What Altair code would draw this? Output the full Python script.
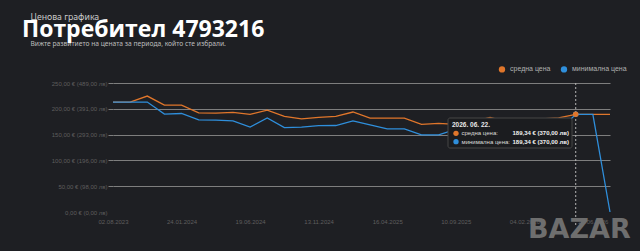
import altair as alt
import pandas as pd

# ---------------- data ----------------
dates = [
    "02.08.2023", "13.09.2023", "25.10.2023", "06.12.2023", "24.01.2024",
    "28.02.2024", "10.04.2024", "15.05.2024", "19.06.2024", "24.07.2024",
    "28.08.2024", "09.10.2024", "13.11.2024", "18.12.2024", "29.01.2025",
    "12.03.2025", "16.04.2025", "21.05.2025", "25.06.2025", "30.07.2025",
    "10.09.2025", "15.10.2025", "19.11.2025", "24.12.2025", "04.02.2026",
    "18.03.2026", "29.04.2026", "22.06.2026", "29.06.2026", "06.07.2026",
]
avg_price = [
    213.0, 213.0, 224.7, 207.2, 207.2, 192.2, 191.7, 193.2, 189.3, 197.5,
    185.4, 180.6, 183.5, 185.4, 193.8, 181.9, 181.9, 181.9, 169.9, 171.8,
    169.9, 174.8, 183.1, 174.8, 178.6, 180.6, 182.5, 189.34, 189.34, 189.34,
]
min_price = [
    213.0, 213.0, 213.0, 189.7, 190.9, 178.6, 178.1, 176.7, 164.7, 182.1,
    163.5, 164.5, 167.4, 167.6, 176.7, 168.9, 161.2, 161.2, 149.5, 149.5,
    160.0, 163.0, 165.0, 160.0, 158.0, 157.0, 157.0, 189.34, 189.34, 0.0,
]
series_names = ["средна цена", "минимална цена"]
series_colors = ["#e0762b", "#2f8fdc"]

x_labels = ["02.08.2023", "24.01.2024", "19.06.2024", "13.11.2024",
            "16.04.2025", "10.09.2025", "04.02.2026", "29.06.2026"]
y_ticks = [0, 50, 100, 150, 200, 250]
y_tick_labels = ["0,00 € (0,00 лв)", "50,00 € (98,00 лв)", "100,00 € (196,00 лв)",
                 "150,00 € (293,00 лв)", "200,00 € (391,00 лв)", "250,00 € (489,00 лв)"]

cursor_date = "22.06.2026"
cursor_value = 189.34
cursor_label = "2026. 06. 22."
tooltip_texts = ["средна цена:", "минимална цена:"]
tooltip_values = ["189,34 € (370,00 лв)", "189,34 € (370,00 лв)"]

title_text = "Потребител 4793216"
header_top = "Ценова графика"
header_sub = "Вижте развитието на цената за периода, който сте избрали."
logo_text = "BAZAR"

# ---------------- tables ----------------
n = len(dates)
df = pd.DataFrame({
    "idx": list(range(n)) * 2,
    "date": dates * 2,
    "series": [series_names[0]] * n + [series_names[1]] * n,
    "value": avg_price + min_price,
})
cursor_df = pd.DataFrame({
    "date": [cursor_date, cursor_date],
    "series": [series_names[1], series_names[0]],
    "value": [cursor_value, cursor_value],
})
one = pd.DataFrame({"a": [0]})

BG = "#1e1f23"
GRID = "#7e7e7e"
LABEL = "#5e5e5e"
AXFONT = "Liberation Sans"

label_expr = "[" + ",".join("'" + s + "'" for s in y_tick_labels) + "][indexof([" + \
    ",".join(str(v) for v in y_ticks) + "], datum.value)]"

x_enc = alt.X(
    "date:O",
    scale=alt.Scale(type="point", domain=dates, padding=0),
    axis=alt.Axis(values=x_labels, labelAngle=0, ticks=False, domain=False, grid=False,
                  labelPadding=6, labelFontSize=6, labelColor=LABEL, labelFont=AXFONT,
                  labelOverlap=False, title=None),
)
y_enc = alt.Y(
    "value:Q",
    scale=alt.Scale(domain=[0, 250], nice=False, zero=True),
    axis=alt.Axis(values=y_ticks, labelExpr=label_expr, grid=True, gridColor=GRID,
                  gridWidth=1, tickSize=5, tickColor=GRID, domain=False, labelPadding=1,
                  labelFontSize=6, labelColor=LABEL, labelFont=AXFONT, title=None,
                  gridOpacity={"condition": {"test": "datum.value === 0", "value": 0}, "value": 1},
                  tickOpacity={"condition": {"test": "datum.value === 0", "value": 0}, "value": 1}),
)

line_avg = alt.Chart(df).transform_filter(
    alt.datum.series == series_names[0]
).mark_line(color=series_colors[0], strokeWidth=1.3).encode(
    x=x_enc, y=y_enc, order=alt.Order("idx:Q"))

line_min = alt.Chart(df).transform_filter(
    alt.datum.series == series_names[1]
).mark_line(color=series_colors[1], strokeWidth=1.3).encode(
    x=x_enc, y=y_enc, order=alt.Order("idx:Q"))

cursor_rule = alt.Chart(cursor_df.head(1)).mark_rule(
    color="#b5b5b5", strokeDash=[2, 2], strokeWidth=1
).encode(x=x_enc, y=alt.value(0), y2=alt.value(142))

points = alt.Chart(cursor_df).mark_circle(size=30, opacity=1).encode(
    x=x_enc, y=y_enc,
    color=alt.Color("series:N",
                    scale=alt.Scale(domain=series_names, range=series_colors),
                    legend=alt.Legend(orient="none", legendX=385, legendY=-18,
                                      direction="horizontal", title=None,
                                      labelColor="#b0b0b0", labelFontSize=7,
                                      labelFont=AXFONT, symbolType="circle",
                                      symbolSize=40, symbolOpacity=1,
                                      columnPadding=9, labelOffset=4, padding=0)),
)

# tooltip box
tip_box = alt.Chart(one).mark_rect(
    fill="#1b1c1f", stroke="#464646", strokeWidth=1, cornerRadius=2
).encode(x=alt.value(335), x2=alt.value(459), y=alt.value(35), y2=alt.value(65))
tip_date = alt.Chart(one).mark_text(
    text=cursor_label, align="left", baseline="middle", fontSize=6.5,
    fontWeight="bold", color="#e8e8e8", font=AXFONT
).encode(x=alt.value(339), y=alt.value(41.5))
tip_layers = []
for k, yy in enumerate([50.3, 58.7]):
    tip_layers.append(alt.Chart(one).mark_circle(size=28, opacity=1, color=series_colors[k])
                      .encode(x=alt.value(343), y=alt.value(yy)))
    tip_layers.append(alt.Chart(one).mark_text(
        text=tooltip_texts[k], align="left", baseline="middle", fontSize=6,
        color="#dcdcdc", font=AXFONT).encode(x=alt.value(348.5), y=alt.value(yy)))
    tip_layers.append(alt.Chart(one).mark_text(
        text=tooltip_values[k], align="right", baseline="middle", fontSize=6,
        fontWeight="bold", color="#f0f0f0", font=AXFONT).encode(x=alt.value(456), y=alt.value(yy)))

# header
h_top = alt.Chart(one).mark_text(
    text=header_top, align="left", baseline="alphabetic", fontSize=8.7,
    color="#c9c9c9", font="Noto Sans"
).encode(x=alt.value(-82.5), y=alt.value(-63))
h_sub = alt.Chart(one).mark_text(
    text=header_sub, align="left", baseline="alphabetic", fontSize=6.7,
    color="#bdbdbd", font="Noto Sans"
).encode(x=alt.value(-82.5), y=alt.value(-37))
h_title = alt.Chart(one).mark_text(
    text=title_text, align="left", baseline="alphabetic", fontSize=23,
    fontWeight="bold", color="#ffffff", font="Open Sans"
).encode(x=alt.value(-91), y=alt.value(-46))

logo = alt.Chart(one).mark_text(
    text=logo_text, align="left", baseline="alphabetic", fontSize=27,
    fontWeight=900, color="#6e6e6e", font="DejaVu Sans"
).encode(x=alt.value(415), y=alt.value(155))

chart = alt.layer(
    line_avg, line_min, cursor_rule, points, tip_box, tip_date, *tip_layers,
    h_top, h_sub, h_title, logo
).properties(
    width=497, height=129,
    autosize=alt.AutoSizeParams(type="none"),
    padding={"left": 113, "top": 83, "right": 30, "bottom": 39},
    background=BG,
).configure_view(stroke=None)

chart.save("out.html", embed_options={"renderer": "svg", "actions": False})
